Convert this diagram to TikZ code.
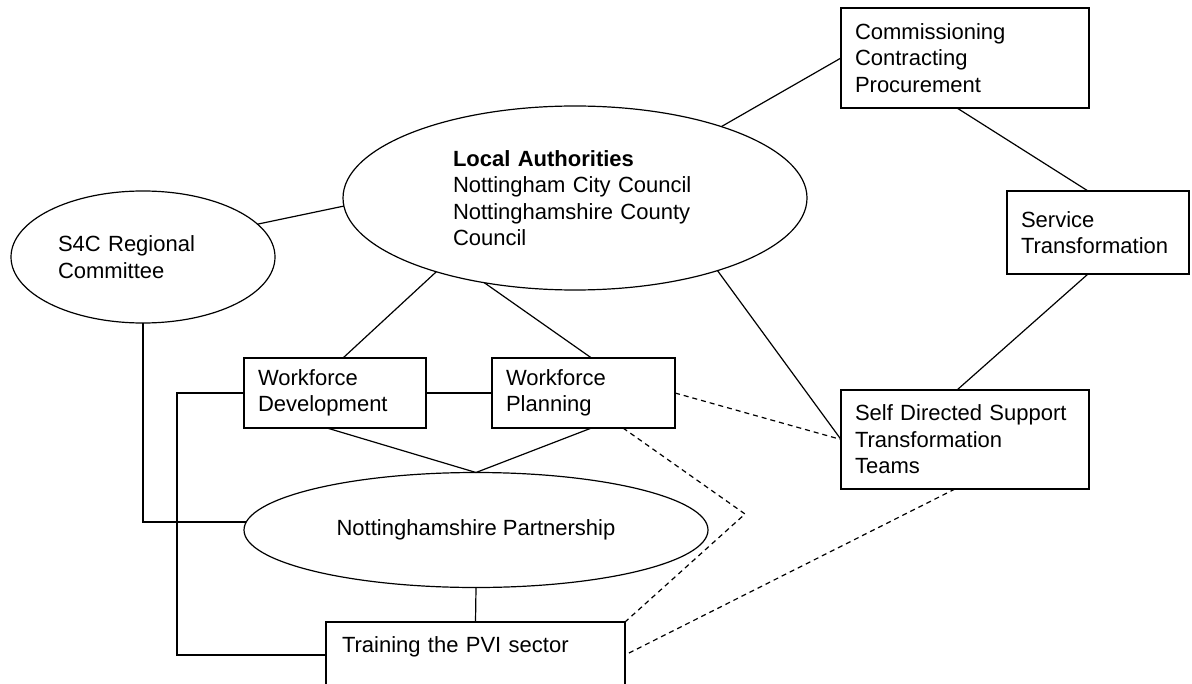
\documentclass[tikz,border=0pt]{standalone}
\usepackage{fontspec}
\setmainfont{Liberation Sans}
\usetikzlibrary{shapes.geometric}
\tikzset{
	box/.style={draw, rectangle, align=left, inner xsep=7pt, inner ysep=0pt, outer sep=0pt, font=\fontsize{11}{13.2}\selectfont},
	oval/.style={draw, ellipse, inner sep=0pt, outer sep=0pt, font=\fontsize{11}{13.2}\selectfont},
	dashline/.style={dash pattern=on 2.5pt off 2pt}
}

\begin{document}
\begin{tikzpicture}[x=0.5pt, y=-0.5pt, line width=0.6pt]
			%%%%% START %%%%%
			
			\useasboundingbox (0, 0) rectangle (1192, 684);
			\clip (0, 0) rectangle (1192, 684);
			
			\node[oval, minimum width=232pt, minimum height=92pt, text width=122pt, align=left] (la) at (575, 198) {\textbf{Local Authorities}\\Nottingham City Council\\Nottinghamshire County\\Council};
			\node[oval, minimum width=132pt, minimum height=66pt, text width=85pt, align=left] (s4c) at (143, 257) {S4C Regional\\Committee};
			\node[oval, minimum width=232pt, minimum height=57.5pt] (np) at (476, 530) {Nottinghamshire Partnership};
			
			\node[box, text width=110pt, minimum height=50pt] (comm) at (965, 58) {Commissioning\\Contracting\\Procurement};
			\node[box, text width=77pt, minimum height=41.5pt] (serv) at (1098, 232.5) {Service\\Transformation};
			\node[box, text width=110pt, minimum height=49.5pt] (sds) at (965, 439.5) {Self Directed Support\\Transformation\\Teams};
			
			\node[box, text width=77pt, minimum height=35pt] (wd) at (335, 393) {Workforce\\Development};
			\node[box, text width=77.5pt, minimum height=35pt] (wp) at (583.5, 393) {Workforce\\Planning};
			\node[box, text width=133.5pt, inner xsep=8pt, text height=15pt, text depth=40pt, anchor=north] (pvi) at (475.5, 622) {Training the PVI sector};
			
			\coordinate (kink) at (745, 514);
			
			% solid links
			\draw (s4c.16) -- (la.182);
			\draw (la.26) -- (comm.west);
			\draw ([xshift=-4pt]comm.south) -- ([xshift=-5pt]serv.north);
			\draw ([xshift=-5pt]serv.south) -- ([xshift=-4pt]sds.north);
			\draw (la.-27) -- (sds.west);
			\draw (la.208) -- ([xshift=4pt]wd.north);
			\draw (la.223) -- ([xshift=4pt]wp.north);
			\draw (wd.east) -- (wp.west);
			\draw ([xshift=-4pt]wd.south) -- (np.north);
			\draw ([xshift=4pt]wp.south) -- (np.north);
			\draw (s4c.south) |- (np.178);
			\draw (wd.west) -- ++(-33.5pt, 0) |- ([yshift=-1.5pt]pvi.base west);
			\draw (np.south) -- (pvi.north);
			
			% dashed links
			\draw[dashline] (wp.east) -- (sds.west);
			\draw[dashline] ([xshift=-26pt]wp.south east) -- (kink) -- (pvi.north east);
			\draw[dashline] ([xshift=-5pt]sds.south) -- ([yshift=-1.5pt]pvi.base east);
			
			%%%%% END %%%%%
\end{tikzpicture}
\end{document}
